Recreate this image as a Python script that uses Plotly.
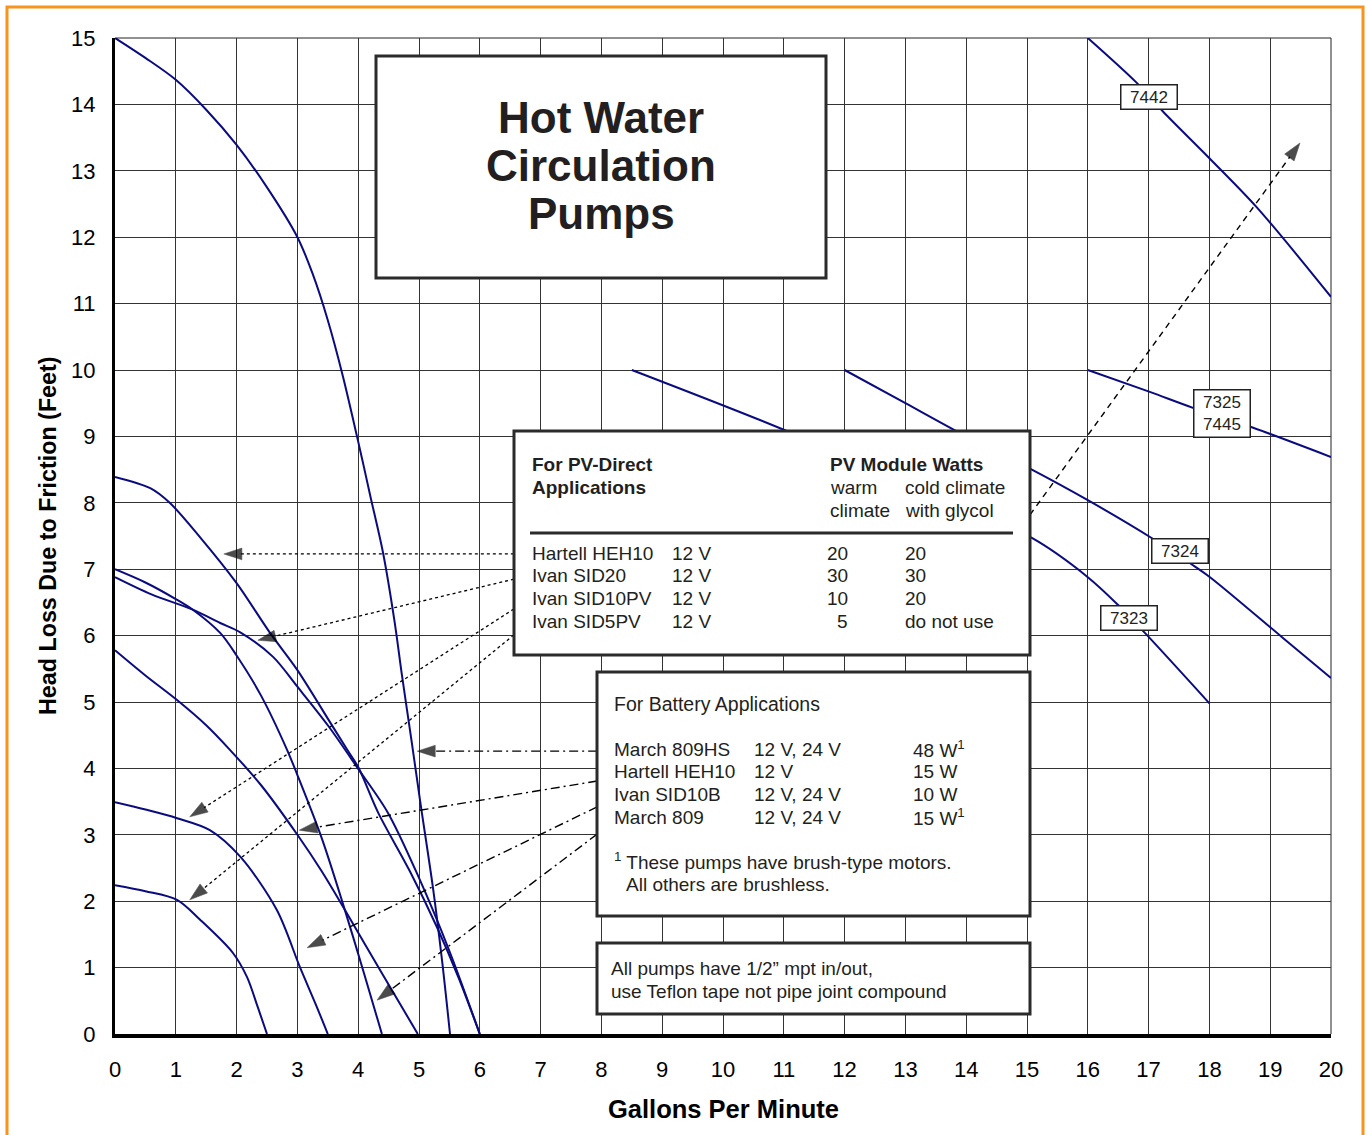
import math
import plotly.graph_objects as go

# ---------------- data ----------------
X_TICKS = list(range(0, 21))
Y_TICKS = list(range(0, 16))

# pump curves (GPM, head in feet)
march809hs_x = [0, 0.5, 1.0, 1.5, 2.0, 2.5, 3.0, 3.25, 3.5, 3.75, 4.03, 4.2, 4.41, 4.6, 4.72, 4.88, 5.02, 5.23, 5.38, 5.51]
march809hs_y = [15, 14.7, 14.37, 13.92, 13.39, 12.75, 12.0, 11.45, 10.75, 9.9, 8.8, 8.1, 7.24, 6.2, 5.4, 4.4, 3.5, 2.2, 1.1, 0]

hartell_x = [0, 0.58, 0.9, 1.4, 2.0, 2.55, 3.0, 3.5, 3.82, 4.0, 4.33, 4.85, 5.3, 5.65, 6.0]
hartell_y = [8.39, 8.22, 8.0, 7.48, 6.79, 6.04, 5.48, 4.75, 4.28, 4.02, 3.33, 2.45, 1.6, 0.85, 0]

sid20_x = [0, 0.5, 1.0, 1.28, 1.73, 2.0, 2.4, 2.83, 3.0, 3.4, 3.78, 4.1, 4.39]
sid20_y = [7.0, 6.8, 6.55, 6.39, 6.04, 5.7, 5.1, 4.28, 3.9, 2.95, 1.87, 0.9, 0]

sid10pv_x = [0, 0.6, 1.28, 1.73, 2.06, 2.6, 3.0, 3.5, 3.98, 4.49, 5.0, 5.5, 6.0]
sid10pv_y = [6.88, 6.62, 6.39, 6.19, 6.05, 5.68, 5.23, 4.65, 4.02, 3.33, 2.35, 1.25, 0]

sid5pv_x = [0, 0.5, 1.02, 1.5, 1.89, 2.4, 3.0, 3.4, 3.78, 4.4, 4.98]
sid5pv_y = [5.78, 5.4, 5.03, 4.65, 4.28, 3.75, 3.0, 2.45, 1.87, 0.9, 0]

sid10b_x = [0, 0.5, 1.02, 1.56, 2.06, 2.66, 3.04, 3.3, 3.5]
sid10b_y = [3.49, 3.38, 3.25, 3.07, 2.67, 1.87, 1.01, 0.45, 0]

march809_x = [0, 0.5, 1.02, 1.4, 1.94, 2.17, 2.35, 2.5]
march809_y = [2.24, 2.15, 2.02, 1.72, 1.22, 0.86, 0.4, 0]

p7442_x = [16, 16.81, 17.24, 18.0, 18.78, 20.0]
p7442_y = [15, 14.32, 13.89, 13.19, 12.45, 11.1]

p7325_x = [16, 17.02, 17.73, 18.72, 20]
p7325_y = [10, 9.67, 9.43, 9.13, 8.69]

p7324_x = [12, 13, 14, 15.08, 16, 17.05, 17.73, 18.01, 19.19, 20]
p7324_y = [10, 9.5, 9.0, 8.5, 8.04, 7.47, 7.06, 6.88, 5.98, 5.36]

p7323_x = [8.5, 11, 13, 15.08, 16, 16.5, 16.97, 18]
p7323_y = [10, 9.1, 8.3, 7.47, 6.88, 6.46, 6.01, 4.98]

small_curves = [(march809hs_x, march809hs_y), (hartell_x, hartell_y), (sid20_x, sid20_y),
                (sid10pv_x, sid10pv_y), (sid5pv_x, sid5pv_y), (sid10b_x, sid10b_y),
                (march809_x, march809_y)]
big_curves = [(p7442_x, p7442_y), (p7325_x, p7325_y), (p7324_x, p7324_y), (p7323_x, p7323_y)]

# curve labels
curve_labels = ["7442", "7325<br>7445", "7324", "7323"]
curve_label_x = [17.01, 18.21, 17.52, 16.68]
curve_label_y = [14.11, 9.35, 7.27, 6.27]

# PV-direct table
pv_names = ["Hartell HEH10", "Ivan SID20", "Ivan SID10PV", "Ivan SID5PV"]
pv_volts = ["12 V", "12 V", "12 V", "12 V"]
pv_warm = ["20", "30", "10", "5"]
pv_cold = ["20", "30", "20", "do not use"]

# Battery table
bat_names = ["March 809HS", "Hartell HEH10", "Ivan SID10B", "March 809"]
bat_volts = ["12 V, 24 V", "12 V", "12 V, 24 V", "12 V, 24 V"]
bat_watts = ["48 W<sup>1</sup>", "15 W", "10 W", "15 W<sup>1</sup>"]

# pointer arrows: (tail, tip) in chart units
pv_arrow_tail = [(6.56, 7.23), (6.56, 6.85), (6.56, 6.40), (6.56, 6.01)]
pv_arrow_tip = [(1.79, 7.23), (2.35, 5.93), (1.23, 3.27), (1.23, 2.02)]
bat_arrow_tail = [(7.93, 4.26), (7.93, 3.81), (7.93, 3.42), (7.93, 3.01)]
bat_arrow_tip = [(4.97, 4.26), (3.03, 3.07), (3.16, 1.30), (4.31, 0.51)]
big_arrow_tail = (15.05, 7.82)
big_arrow_tip = (19.49, 13.42)

# ---------------- layout constants ----------------
W, H = 1368, 1135
ML, MR, MT, MB = 115, 37, 38, 101
PW, PH = W - ML - MR, H - MT - MB
SX = PW / (X_TICKS[-1] - X_TICKS[0])
SY = PH / (Y_TICKS[-1] - Y_TICKS[0])

NAVY = "#0b0b80"
TXT = "#231f20"
FONT = "Liberation Sans, Arial, Helvetica, sans-serif"


def px_to_x(px):
    return (px - ML) / SX


def py_to_y(py):
    return (H - MB - py) / SY


fig = go.Figure()

for xs, ys in small_curves + big_curves:
    fig.add_trace(go.Scatter(x=xs, y=ys, mode="lines",
                             line=dict(color=NAVY, width=2, shape="spline", smoothing=0.9),
                             hoverinfo="skip", showlegend=False))


# pointer arrows: patterned line plus an arrow marker at the tip
def arrow(tail, tip, dash, width):
    fig.add_trace(go.Scatter(x=[tail[0], tip[0]], y=[tail[1], tip[1]], mode="lines+markers",
                             line=dict(color="black", width=width, dash=dash),
                             marker=dict(symbol="arrow", size=[0, 19], angleref="previous",
                                         color="black", line=dict(width=0.5, color="black")),
                             hoverinfo="skip", showlegend=False))


for t, p in zip(pv_arrow_tail, pv_arrow_tip):
    arrow(t, p, "dot", 1.3)
for t, p in zip(bat_arrow_tail, bat_arrow_tip):
    arrow(t, p, "9px,4px,2px,4px", 1.4)
arrow(big_arrow_tail, big_arrow_tip, "6px,5px", 1.4)

shapes = []
# plot border (top/right thin)
shapes.append(dict(type="line", xref="paper", yref="paper", x0=0, x1=1, y0=1, y1=1,
                   line=dict(color="#222", width=1), layer="below"))
shapes.append(dict(type="line", xref="paper", yref="paper", x0=1, x1=1, y0=0, y1=1,
                   line=dict(color="#222", width=1), layer="below"))


def box(px0, py0, px1, py1, lw=3):
    shapes.append(dict(type="rect", xref="x", yref="y",
                       x0=px_to_x(px0), x1=px_to_x(px1), y0=py_to_y(py0), y1=py_to_y(py1),
                       fillcolor="white", line=dict(color="#2b2b2b", width=lw), layer="above"))


box(376, 56, 826, 278)
box(514, 431, 1030, 655)
box(597, 672, 1030, 916)
box(597, 943, 1030, 1014)
# rule in the PV table
shapes.append(dict(type="line", xref="x", yref="y", x0=px_to_x(530), x1=px_to_x(1013),
                   y0=py_to_y(533), y1=py_to_y(533), line=dict(color="#2b2b2b", width=3),
                   layer="above"))
# orange frame
shapes.append(dict(type="rect", xref="paper", yref="paper",
                   x0=(7 - ML) / PW, x1=(1363 - ML) / PW,
                   y0=(H - MB - 1145) / PH, y1=(H - MB - 7) / PH,
                   line=dict(color="#f7941d", width=3), fillcolor="rgba(0,0,0,0)", layer="below"))

fig.update_layout(shapes=shapes)


def txt(text, px, py, size=19, anchor="left", bold=False, color=TXT):
    fig.add_annotation(x=px_to_x(px), y=py_to_y(py), xref="x", yref="y", text=text,
                       showarrow=False, xanchor=anchor, yanchor="middle",
                       font=dict(family=FONT, size=size, color=color,
                                 weight="bold" if bold else "normal"))


# title
for i, line in enumerate(["Hot Water", "Circulation", "Pumps"]):
    fig.add_annotation(x=px_to_x(601), y=py_to_y(117 + 48 * i), xref="x", yref="y",
                       text=line, showarrow=False, xanchor="center", yanchor="middle",
                       font=dict(family=FONT, size=44, color=TXT, weight=900))

# PV-direct table
txt("For PV-Direct", 530, 464, bold=True)
txt("Applications", 530, 487, bold=True)
txt("PV Module Watts", 828, 464, bold=True)
txt("warm", 828, 487)
txt("climate", 828, 510)
txt("cold climate", 903, 487)
txt("with glycol", 903, 510)
for i in range(len(pv_names)):
    py = 553 + 22.7 * i
    txt(pv_names[i], 530, py)
    txt(pv_volts[i], 670, py)
    txt(pv_warm[i], 850, py, anchor="right")
    txt(pv_cold[i], 903, py)

# Battery table
txt("For Battery Applications", 612, 704, size=19.5)
for i in range(len(bat_names)):
    py = 749 + 22.7 * i
    txt(bat_names[i], 612, py)
    txt(bat_volts[i], 752, py)
    txt(bat_watts[i], 911, py)
txt("<sup>1</sup> These pumps have brush-type motors.", 612, 861)
txt("All others are brushless.", 624, 884)

# note box
txt("All pumps have 1/2\u201d mpt in/out,", 609, 968)
txt("use Teflon tape not pipe joint compound", 609, 991)

# curve labels
for lab, lx, ly in zip(curve_labels, curve_label_x, curve_label_y):
    two = "<br>" in lab
    fig.add_annotation(x=lx, y=ly, xref="x", yref="y", text=lab, showarrow=False,
                       xanchor="center", yanchor="middle", width=53, height=44 if two else 21,
                       bgcolor="white", bordercolor="#222", borderwidth=1.5, borderpad=1,
                       font=dict(family=FONT, size=17, color=TXT))

# axis titles
fig.add_annotation(x=(723 - ML) / PW, y=(H - MB - 1109) / PH, xref="paper", yref="paper",
                   text="Gallons Per Minute", showarrow=False, xanchor="center", yanchor="middle",
                   font=dict(family=FONT, size=25.5, color="black", weight="bold"))
fig.add_annotation(x=(48 - ML) / PW, y=(H - MB - 536) / PH, xref="paper", yref="paper",
                   text="Head Loss Due to Friction (Feet)", showarrow=False, textangle=-90,
                   xanchor="center", yanchor="middle",
                   font=dict(family=FONT, size=23.3, color="black", weight="bold"))

fig.update_layout(
    width=W, height=H,
    margin=dict(l=ML, r=MR, t=MT, b=MB),
    paper_bgcolor="white", plot_bgcolor="white",
    showlegend=False,
    xaxis=dict(range=[X_TICKS[0], X_TICKS[-1]], tickvals=X_TICKS, ticktext=[str(v) for v in X_TICKS],
               showgrid=True, gridcolor="#333333", gridwidth=1, zeroline=False,
               showline=True, linecolor="black", linewidth=4, ticks="",
               ticklabelstandoff=13, tickfont=dict(family=FONT, size=22, color="black"),
               fixedrange=True),
    yaxis=dict(range=[Y_TICKS[0], Y_TICKS[-1]], tickvals=Y_TICKS, ticktext=[str(v) for v in Y_TICKS],
               showgrid=True, gridcolor="#333333", gridwidth=1, zeroline=False,
               showline=True, linecolor="black", linewidth=3, ticks="",
               ticklabelstandoff=12, tickfont=dict(family=FONT, size=22, color="black"),
               fixedrange=True),
)

fig.write_html("out.html", config={"displayModeBar": False},
               post_script="document.body.style.margin='0px';")
